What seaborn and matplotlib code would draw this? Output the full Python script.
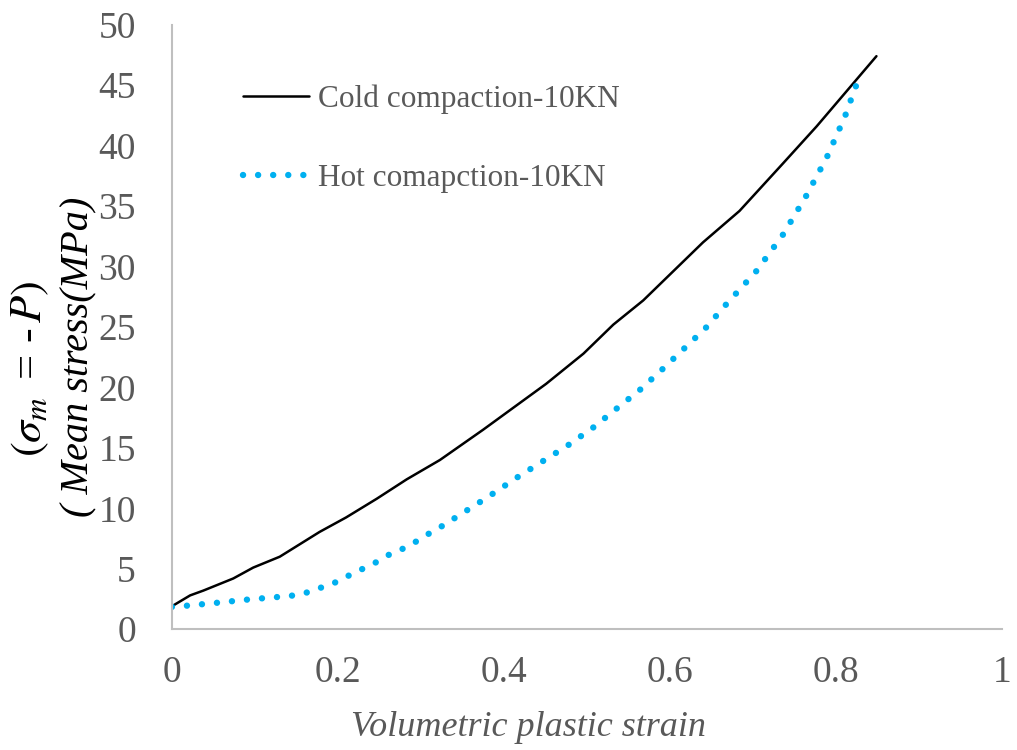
import matplotlib
matplotlib.use("Agg")
import pandas as pd
import matplotlib.pyplot as plt
import seaborn as sns

# values
cold_strain = [0, 0.022, 0.038, 0.074, 0.098, 0.130, 0.178, 0.210, 0.247, 0.283, 0.323, 0.375,
               0.419, 0.451, 0.496, 0.532, 0.568, 0.604, 0.640, 0.684, 0.736, 0.777, 0.813, 0.849]
cold_stress = [1.9, 2.8, 3.2, 4.2, 5.1, 6.0, 8.05, 9.25, 10.8, 12.4, 14.0, 16.5,
               18.7, 20.3, 22.8, 25.2, 27.2, 29.6, 32.0, 34.6, 38.5, 41.6, 44.5, 47.4]

hot_strain = [0, 0.020, 0.056, 0.092, 0.128, 0.146, 0.164, 0.180, 0.198, 0.214, 0.230, 0.247,
              0.262, 0.279, 0.295, 0.310, 0.326, 0.341, 0.380, 0.417, 0.447, 0.477, 0.508, 0.535,
              0.564, 0.591, 0.617, 0.643, 0.667, 0.704, 0.736, 0.764, 0.789, 0.811, 0.823, 0.830]
hot_stress = [1.85, 1.96, 2.2, 2.46, 2.67, 2.79, 3.06, 3.45, 3.9, 4.47, 5.0, 5.57,
              6.18, 6.68, 7.28, 7.92, 8.55, 9.2, 10.9, 12.6, 13.9, 15.2, 16.7, 18.2,
              19.8, 21.5, 23.2, 24.9, 26.8, 29.6, 32.6, 35.8, 39.0, 42.4, 44.7, 45.9]

cold_label = "Cold compaction-10KN"
hot_label = "Hot comapction-10KN"
x_ticks = [0, 0.2, 0.4, 0.6, 0.8, 1]
x_tick_labels = ["0", "0.2", "0.4", "0.6", "0.8", "1"]
y_ticks = list(range(0, 55, 5))

cold_df = pd.DataFrame({"strain": cold_strain, "stress": cold_stress})
hot_df = pd.DataFrame({"strain": hot_strain, "stress": hot_stress})

sns.set_style("white")
plt.rcParams["font.family"] = ["Liberation Serif", "DejaVu Serif"]
plt.rcParams["mathtext.fontset"] = "stix"

gray = "#595959"
fig = plt.figure(figsize=(10.17, 7.5), dpi=100)
ax = fig.add_axes([0.169, 0.161, 0.816, 0.806])

sns.lineplot(data=cold_df, x="strain", y="stress", ax=ax, color="black",
             linewidth=1.8, label=cold_label)
sns.lineplot(data=hot_df, x="strain", y="stress", ax=ax, color="#00B0F0",
             linewidth=4.6, linestyle=(0, (0.01, 2.35)), dash_capstyle="round",
             label=hot_label)

ax.set_xlim(0, 1)
ax.set_ylim(0, 50)
ax.set_xticks(x_ticks)
ax.set_xticklabels(x_tick_labels)
ax.set_yticks(y_ticks)
ax.tick_params(axis="both", length=0, labelsize=27, labelcolor=gray)
ax.tick_params(axis="x", pad=19)
ax.tick_params(axis="y", pad=26)

for side in ["top", "right"]:
    ax.spines[side].set_visible(False)
for side in ["left", "bottom"]:
    ax.spines[side].set_color("#BFBFBF")
    ax.spines[side].set_linewidth(1.5)

ax.set_xlabel("Volumetric plastic strain", fontsize=26, style="italic", color=gray)
ax.xaxis.set_label_coords(0.43, -0.135)

ax.set_ylabel("( Mean stress(MPa)", fontsize=29, style="italic", color="black")
ax.yaxis.set_label_coords(-0.09, 0.45)
ax.text(-0.170, 0.43, r"$(\sigma_m\,$ = -$\,P)$", transform=ax.transAxes, rotation=90,
        fontsize=32, ha="center", va="center", color="black")

leg = ax.legend(loc="upper left", bbox_to_anchor=(0.052, 0.947), frameon=False,
                fontsize=22.5, handlelength=2.1, handletextpad=0.3, labelspacing=1.58)
for t in leg.get_texts():
    t.set_color(gray)

fig.savefig("out.png", dpi=100)
